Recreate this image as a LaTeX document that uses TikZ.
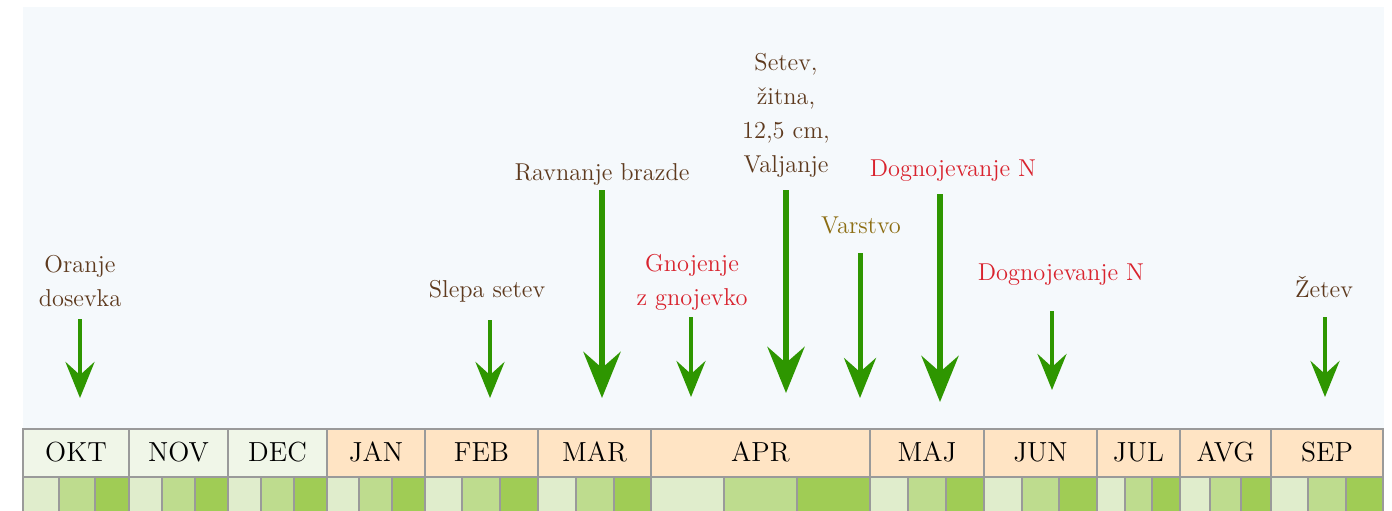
\documentclass[tikz,border=0pt]{standalone}
\usepackage{fontspec}
\usetikzlibrary{arrows.meta}
\definecolor{bgblue}{HTML}{F5F9FC}
\definecolor{gridgray}{HTML}{9A9A9A}
\definecolor{hdrgreen}{HTML}{F0F6E8}
\definecolor{hdrorange}{HTML}{FFE4C4}
\definecolor{subA}{HTML}{E0EDCC}
\definecolor{subB}{HTML}{BEDC8E}
\definecolor{subC}{HTML}{A0CC55}
\definecolor{arrowgreen}{HTML}{2E9600}
\definecolor{txtbrown}{HTML}{5E3A1E}
\definecolor{txtred}{HTML}{D9232E}
\definecolor{txtolive}{HTML}{8C6D12}
\tikzset{
  cellbox/.style={draw=gridgray, line width=1.25pt, inner sep=0pt, outer sep=0pt},
  monthtxt/.style={font=\fontsize{13.8}{16}\selectfont, text=black, inner sep=0pt, anchor=base},
  lbl/.style={font=\fontsize{12.2}{17}\selectfont, inner sep=0pt, anchor=base, align=center},
  brownlbl/.style={lbl, text=txtbrown},
  redlbl/.style={lbl, text=txtred},
  olivelbl/.style={lbl, text=txtolive},
  thinarrow/.style={draw=arrowgreen, line width=2.3pt, -{Stealth[length=18pt, width=14.5pt, inset=6.5pt]}},
  midarrow/.style={draw=arrowgreen, line width=2.5pt, -{Stealth[length=20pt, width=16pt, inset=7pt]}},
  thickarrow/.style={draw=arrowgreen, line width=3.3pt, -{Stealth[length=23pt, width=18.5pt, inset=8pt]}},
}
\begin{document}
\begin{tikzpicture}[x=0.5pt, y=-0.5pt]
\useasboundingbox (0,0) rectangle (1392,510);
\clip (0,0) rectangle (1392,510);
\fill[bgblue] (23,7) rectangle (1384,432);
% month header cells
\foreach \a/\b/\t/\c [count=\i] in {23/129/OKT/hdrgreen, 129/228/NOV/hdrgreen, 228/327/DEC/hdrgreen, 327/425/JAN/hdrorange, 425/538/FEB/hdrorange, 538/651/MAR/hdrorange, 651/870/APR/hdrorange, 870/984/MAJ/hdrorange, 984/1097/JUN/hdrorange, 1097/1180/JUL/hdrorange, 1180/1271/AVG/hdrorange, 1271/1383/SEP/hdrorange}{
  \pgfmathsetmacro\w{(\b-\a)*0.5}
  \node[cellbox, fill=\c, minimum width=\w pt, minimum height=24pt] (m\i) at ({(\a+\b)/2},453) {};
  \node[monthtxt] (mt\i) at ({(\a+\b)/2},461) {\t};
}
% sub cells
\foreach \a/\b/\c/\d/\n in {23/59/95/129/1, 129/162/195/228/2, 228/261/294/327/3, 327/359/392/425/4, 425/462/500/538/5, 538/576/614/651/6, 651/724/797/870/7, 870/908/946/984/8, 984/1022/1059/1097/9, 1097/1125/1152/1180/10, 1180/1210/1241/1271/11, 1271/1308/1346/1383/12}{
  \pgfmathsetmacro\wa{(\b-\a)*0.5}
  \pgfmathsetmacro\wb{(\c-\b)*0.5}
  \pgfmathsetmacro\wc{(\d-\c)*0.5}
  \node[cellbox, fill=subA, minimum width=\wa pt, minimum height=24pt] (s\n a) at ({(\a+\b)/2},501) {};
  \node[cellbox, fill=subB, minimum width=\wb pt, minimum height=24pt] (s\n b) at ({(\b+\c)/2},501) {};
  \node[cellbox, fill=subC, minimum width=\wc pt, minimum height=24pt] (s\n c) at ({(\c+\d)/2},501) {};
}
% labels (anchor = baseline of last line)
\node[brownlbl] (l1) at (80,306) {Oranje\\dosevka};
\node[brownlbl] (l2) at (487,297) {Slepa setev};
\node[brownlbl] (l3) at (602,180) {Ravnanje brazde};
\node[redlbl] (l4) at (692,305) {Gnojenje\\z gnojevko};
\node[brownlbl] (l5) at (786,172) {Setev,\\žitna,\\12,5 cm,\\Valjanje};
\node[olivelbl] (l6) at (861,233) {Varstvo};
\node[redlbl] (l7) at (953,176) {Dognojevanje N};
\node[redlbl] (l8) at (1061,280) {Dognojevanje N};
\node[brownlbl] (l9) at (1324,297) {Žetev};
% arrows
\coordinate (a1s) at (80,319);   \coordinate (a1e) at (80,398);
\coordinate (a2s) at (490,320);  \coordinate (a2e) at (490,398);
\coordinate (a3s) at (602,190);  \coordinate (a3e) at (602,398);
\coordinate (a4s) at (691,317);  \coordinate (a4e) at (691,397);
\coordinate (a5s) at (786,190);  \coordinate (a5e) at (786,393);
\coordinate (a6s) at (860,253);  \coordinate (a6e) at (860,398);
\coordinate (a7s) at (940,194);  \coordinate (a7e) at (940,402);
\coordinate (a8s) at (1052,311); \coordinate (a8e) at (1052,390);
\coordinate (a9s) at (1325,317); \coordinate (a9e) at (1325,397);
\draw[thinarrow] (a1s) -- (a1e);
\draw[thinarrow] (a2s) -- (a2e);
\draw[thickarrow] (a3s) -- (a3e);
\draw[thinarrow] (a4s) -- (a4e);
\draw[thickarrow] (a5s) -- (a5e);
\draw[midarrow] (a6s) -- (a6e);
\draw[thickarrow] (a7s) -- (a7e);
\draw[thinarrow] (a8s) -- (a8e);
\draw[thinarrow] (a9s) -- (a9e);
\end{tikzpicture}
\end{document}
